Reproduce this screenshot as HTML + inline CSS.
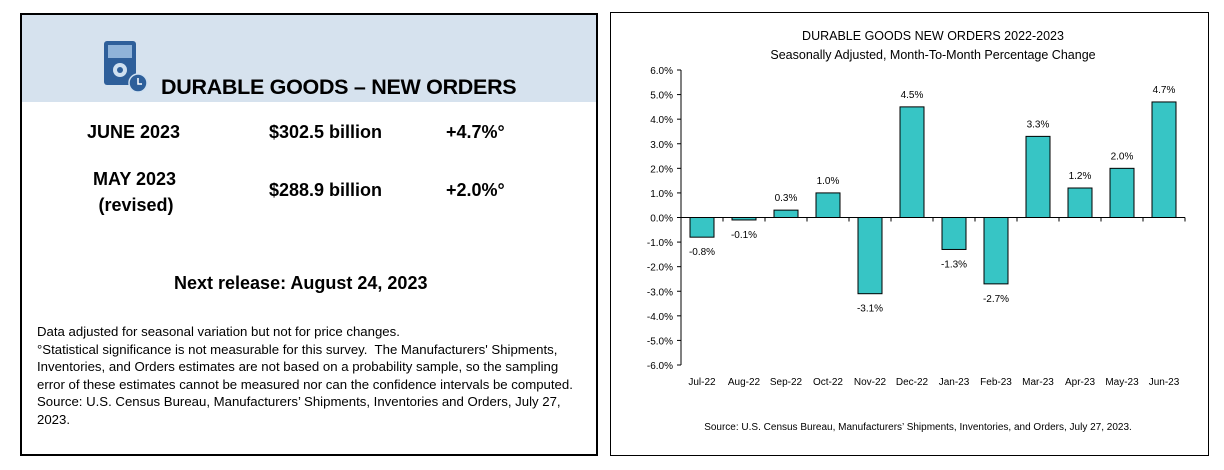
<!DOCTYPE html>
<html><head><meta charset="utf-8"><style>
body{margin:0;width:1224px;height:470px;background:#fff;position:relative;overflow:hidden;font-family:"Liberation Sans",sans-serif;color:#000}
.abs{position:absolute;white-space:nowrap}
.b{font-weight:bold}
</style></head><body>
<div class="abs" style="left:20px;top:13px;width:574px;height:439px;border:2px solid #000;"></div>
<div class="abs" style="left:22px;top:15px;width:574px;height:87px;background:#d6e2ee;"></div>
<svg class="abs" style="left:100px;top:38px" width="58" height="64">
<rect x="4" y="3" width="32" height="44" rx="3" fill="#2e5f9a"/>
<rect x="8" y="7" width="24" height="13" fill="#8fb3d9"/>
<circle cx="20" cy="32" r="7" fill="#cfe0f0"/><circle cx="20" cy="32" r="3" fill="#2e5f9a"/>
<circle cx="38" cy="45" r="9" fill="#2e5f9a" stroke="#cfe0f0" stroke-width="1.5"/>
<path d="M38 40 V46 H42" stroke="#fff" stroke-width="1.5" fill="none"/>
</svg>
<div class="abs b" style="left:161px;top:75px;font-size:21.5px;letter-spacing:-0.3px;">DURABLE GOODS – NEW ORDERS</div>
<div class="abs b" style="left:87px;top:122px;font-size:18px;">JUNE 2023</div>
<div class="abs b" style="left:269px;top:122px;font-size:18px;">$302.5 billion</div>
<div class="abs b" style="left:446px;top:122px;font-size:18px;">+4.7%°</div>
<div class="abs b" style="left:93px;top:166px;font-size:18px;text-align:center;line-height:26px;">MAY 2023<br><span style="margin-left:3px">(revised)</span></div>
<div class="abs b" style="left:269px;top:180px;font-size:18px;">$288.9 billion</div>
<div class="abs b" style="left:446px;top:180px;font-size:18px;">+2.0%°</div>
<div class="abs b" style="left:174px;top:273px;font-size:18px;">Next release: August 24, 2023</div>
<div class="abs" style="left:37px;top:323px;font-size:13.2px;line-height:17.6px;">Data adjusted for seasonal variation but not for price changes.<br>°Statistical significance is not measurable for this survey.&nbsp; The Manufacturers' Shipments,<br>Inventories, and Orders estimates are not based on a probability sample, so the sampling<br>error of these estimates cannot be measured nor can the confidence intervals be computed.<br>Source: U.S. Census Bureau, Manufacturers’ Shipments, Inventories and Orders, July 27,<br>2023.</div>

<div class="abs" style="left:610px;top:12px;width:597px;height:442px;border:1px solid #000;"></div>
<svg id="chart" class="abs" style="left:0;top:0" width="1224" height="470" font-family="Liberation Sans, sans-serif"></svg>
<script>
const categories=["Jul-22","Aug-22","Sep-22","Oct-22","Nov-22","Dec-22","Jan-23","Feb-23","Mar-23","Apr-23","May-23","Jun-23"];
const values=[-0.8,-0.1,0.3,1.0,-3.1,4.5,-1.3,-2.7,3.3,1.2,2.0,4.7];
const ticks=[6,5,4,3,2,1,0,-1,-2,-3,-4,-5,-6];
const svg=document.getElementById('chart');const NS='http://www.w3.org/2000/svg';
const x0=681,x1=1185,yTop=70,yBot=365;
const y=v=>yTop+(6-v)/12*(yBot-yTop);
const band=(x1-x0)/categories.length;
const cx=i=>x0+band*(i+0.5);
function mk(t,a,txt){const e=document.createElementNS(NS,t);for(const k in a)e.setAttribute(k,a[k]);if(txt!=null)e.textContent=txt;svg.appendChild(e);return e;}
let e;
e=mk('text',{x:933,y:40,'text-anchor':'middle','font-size':12.5},'DURABLE GOODS NEW ORDERS 2022-2023');


e=mk('text',{x:933,y:59,'text-anchor':'middle','font-size':12.5},'Seasonally Adjusted,  Month-To-Month Percentage Change');


e=mk('line',{x1:x0,x2:x0,y1:yTop,y2:yBot,stroke:'#000','stroke-width':1});


ticks.forEach(t=>{
 e=mk('line',{x1:x0-4,x2:x0,y1:y(t),y2:y(t),stroke:'#000'});
 
 
 e=mk('text',{x:x0-8,y:y(t)+4,'text-anchor':'end','font-size':10},t.toFixed(1)+'%');
 
 
});
values.forEach((v,i)=>{
 const bw=24,top=Math.min(y(v),y(0)),h=Math.abs(y(v)-y(0));
 e=mk('rect',{x:cx(i)-bw/2,y:top,width:bw,height:Math.max(h,1.5),fill:'#37c5c5',stroke:'#000','stroke-width':1});
 
 
 const ly=v>=0?y(v)-9:y(v)+18;
 e=mk('text',{x:cx(i),y:ly,'text-anchor':'middle','font-size':10},v.toFixed(1)+'%');
 
 
});
e=mk('line',{x1:x0,x2:x1,y1:y(0),y2:y(0),stroke:'#000'});


for(let i=0;i<=categories.length;i++){
 e=mk('line',{x1:x0+band*i,x2:x0+band*i,y1:y(0),y2:y(0)+4,stroke:'#000'});
 
 
}
categories.forEach((c,i)=>{
 e=mk('text',{x:cx(i),y:385,'text-anchor':'middle','font-size':10},c);
 
 
});
e=mk('text',{x:918,y:430,'text-anchor':'middle','font-size':10},'Source: U.S. Census Bureau, Manufacturers\u2019 Shipments, Inventories, and Orders, July 27, 2023.');


</script>
</body></html>
